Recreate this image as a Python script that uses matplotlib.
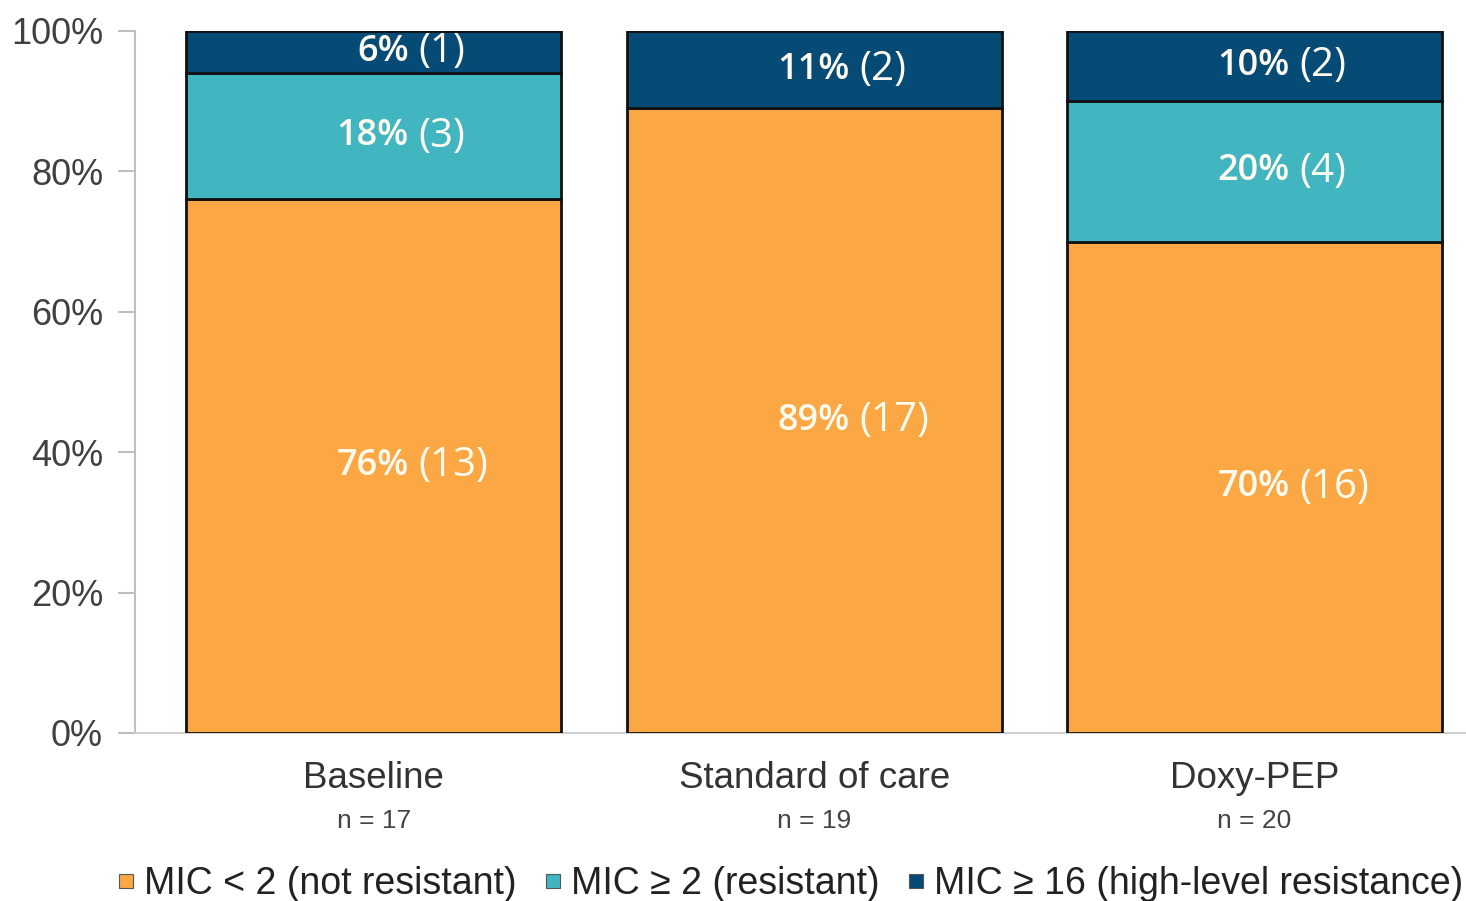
import matplotlib
matplotlib.use("Agg")
import matplotlib.pyplot as plt
from matplotlib.lines import Line2D
import numpy as np

categories = ["Baseline", "Standard of care", "Doxy-PEP"]
n_labels = ["n = 17", "n = 19", "n = 20"]
series_names = ["MIC < 2 (not resistant)", "MIC \u2265 2 (resistant)", "MIC \u2265 16 (high-level resistance)"]
pct_not = [76, 89, 70]
pct_res = [18, 0, 20]
pct_high = [6, 11, 10]
cnt_not = [13, 17, 16]
cnt_res = [3, 0, 4]
cnt_high = [1, 2, 2]
colors = ["#FBA844", "#41B6C1", "#064B75"]

fig = plt.figure(figsize=(14.66, 9.01), dpi=100)
ax = fig.add_axes([135/1466, 1 - 733/901, (1466-135)/1466, 702/901])

x = np.arange(len(categories))
w = 0.852
series = [(pct_not, cnt_not), (pct_res, cnt_res), (pct_high, cnt_high)]
bottom = np.zeros(len(categories))
for (vals, cnts), c in zip(series, colors):
    vals = np.array(vals, dtype=float)
    ax.bar(x, vals, w, bottom=bottom, color=c, edgecolor="#111111", linewidth=2, zorder=3)
    for i in range(len(x)):
        if vals[i] > 0:
            yc = bottom[i] + vals[i] / 2
            ax.text(x[i] + 0.080, yc, f"{int(vals[i])}%", ha="right", va="center",
                    color="#FFFBF0", fontsize=26, fontweight=600, family="Open Sans", zorder=4)
            ax.text(x[i] + 0.102, yc, f"({cnts[i]})", ha="left", va="center",
                    color="#FFFBF0", fontsize=29, family="Open Sans", zorder=4)
    bottom += vals

ax.set_xlim(-0.542, 2.48)
ax.set_ylim(0, 100)
ax.set_yticks([0, 20, 40, 60, 80, 100])
ax.set_yticklabels([f"{v}%" for v in [0, 20, 40, 60, 80, 100]], fontsize=26,
                   color="#404040", family="Liberation Sans")
ax.tick_params(axis="y", length=12, color="#BFBFBF", width=1.5, pad=11)
ax.set_xticks([])
for s in ["top", "right"]:
    ax.spines[s].set_visible(False)
ax.spines["left"].set_color("#BFBFBF")
ax.spines["left"].set_linewidth(1.5)
ax.spines["bottom"].set_color("#D0D0D0")
ax.spines["bottom"].set_linewidth(1.5)

trans = ax.get_xaxis_transform()
for i in range(len(x)):
    ax.text(x[i], -0.065, categories[i], ha="center", va="center", transform=trans,
            fontsize=26.5, color="#333333", family="Liberation Sans", clip_on=False)
    ax.text(x[i], -0.125, n_labels[i], ha="center", va="center", transform=trans,
            fontsize=19, color="#444444", family="Liberation Sans", clip_on=False)

handles = [Line2D([0], [0], marker="s", linestyle="none", markersize=9.5,
                  markerfacecolor=c, markeredgecolor="#555555", markeredgewidth=0.8)
           for c in colors]
fig.legend(handles, series_names, loc="center", bbox_to_anchor=(791/1466, 1 - 884/901),
           ncol=3, frameon=False, handletextpad=0.3, columnspacing=0.75,
           handlelength=0.4, borderpad=0, prop={"family": "Liberation Sans", "size": 27},
           labelcolor="#222222")

fig.savefig("out.png", dpi=100)
